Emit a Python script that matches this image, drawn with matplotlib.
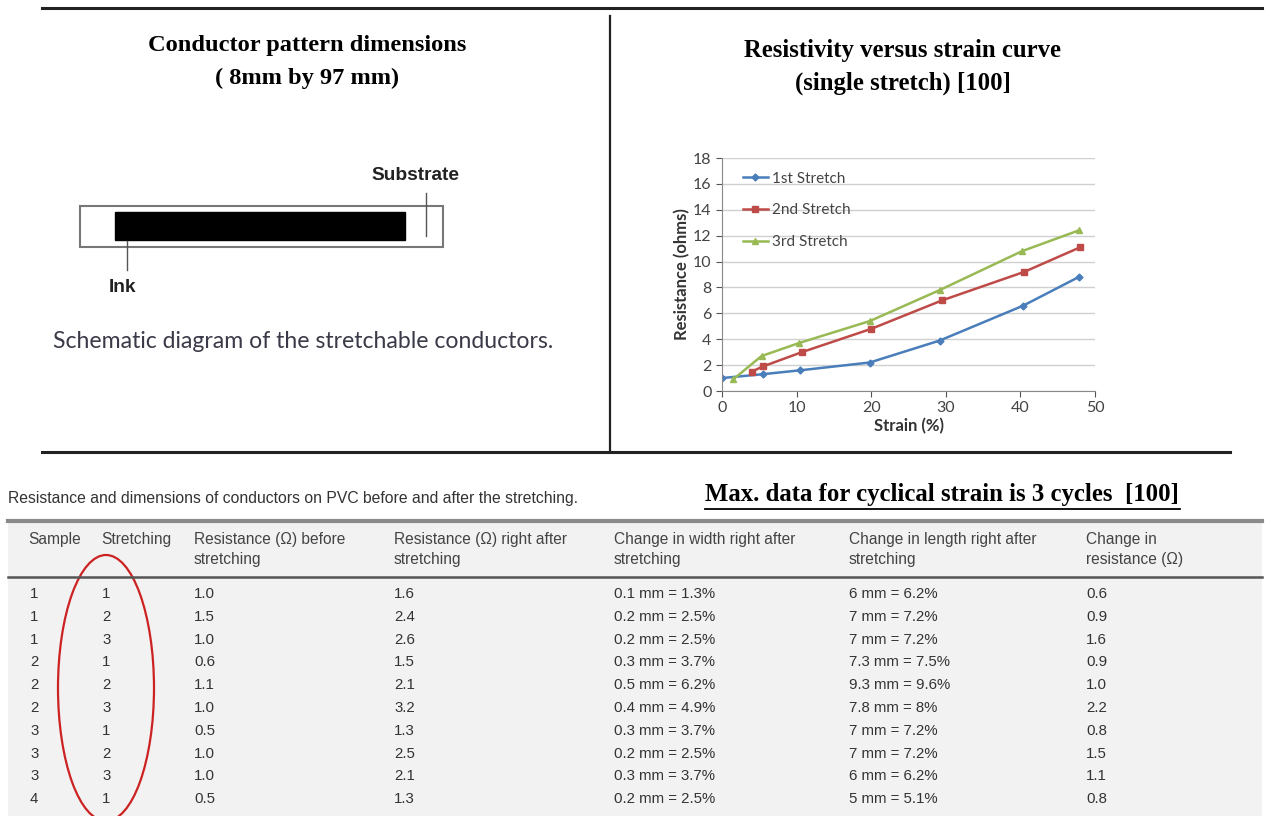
import matplotlib
matplotlib.use("Agg")
import matplotlib.pyplot as plt
from matplotlib.patches import Rectangle, Ellipse

# ---- Resistance vs strain data (single stretch) ----
strain_1 = [0, 5.5, 10.5, 19.8, 29.2, 40.4, 47.8]
res_1 = [1.0, 1.3, 1.6, 2.2, 3.9, 6.6, 8.8]
strain_2 = [4.0, 5.5, 10.7, 20.0, 29.5, 40.5, 48.0]
res_2 = [1.5, 1.9, 3.0, 4.8, 7.0, 9.2, 11.1]
strain_3 = [1.5, 5.3, 10.3, 19.8, 29.2, 40.2, 47.8]
res_3 = [0.9, 2.7, 3.7, 5.4, 7.8, 10.8, 12.4]
series_labels = ["1st Stretch", "2nd Stretch", "3rd Stretch"]
y_ticks = [0, 2, 4, 6, 8, 10, 12, 14, 16, 18]
x_ticks = [0, 10, 20, 30, 40, 50]

# ---- Table data ----
headers = ["Sample", "Stretching", "Resistance (\u03a9) before\nstretching",
           "Resistance (\u03a9) right after\nstretching",
           "Change in width right after\nstretching",
           "Change in length right after\nstretching",
           "Change in\nresistance (\u03a9)"]
sample = ["1", "1", "1", "2", "2", "2", "3", "3", "3", "4"]
stretching = ["1", "2", "3", "1", "2", "3", "1", "2", "3", "1"]
r_before = ["1.0", "1.5", "1.0", "0.6", "1.1", "1.0", "0.5", "1.0", "1.0", "0.5"]
r_after = ["1.6", "2.4", "2.6", "1.5", "2.1", "3.2", "1.3", "2.5", "2.1", "1.3"]
width_change = ["0.1 mm = 1.3%", "0.2 mm = 2.5%", "0.2 mm = 2.5%", "0.3 mm = 3.7%",
                "0.5 mm = 6.2%", "0.4 mm = 4.9%", "0.3 mm = 3.7%", "0.2 mm = 2.5%",
                "0.3 mm = 3.7%", "0.2 mm = 2.5%"]
length_change = ["6 mm = 6.2%", "7 mm = 7.2%", "7 mm = 7.2%", "7.3 mm = 7.5%",
                 "9.3 mm = 9.6%", "7.8 mm = 8%", "7 mm = 7.2%", "7 mm = 7.2%",
                 "6 mm = 6.2%", "5 mm = 5.1%"]
r_change = ["0.6", "0.9", "1.6", "0.9", "1.0", "2.2", "0.8", "1.5", "1.1", "0.8"]

W, H = 1266, 816
fig = plt.figure(figsize=(W / 100, H / 100), dpi=100)

# Full-page canvas in pixel units for the layout elements
bg = fig.add_axes([0, 0, 1, 1])
bg.set_xlim(0, W)
bg.set_ylim(H, 0)
bg.axis("off")

serif_bold = dict(family="Liberation Serif", fontweight="bold")
tbl_font = ["Liberation Sans", "DejaVu Sans"]

# Frame lines of the upper section
bg.plot([42, 1262], [8, 8], color="#222222", lw=2.2)
bg.plot([610, 610], [16, 450], color="#222222", lw=1.6)
bg.plot([42, 1230], [452, 452], color="#222222", lw=2.2)

# Left panel: schematic
bg.text(307, 45, "Conductor pattern dimensions", ha="center", va="center",
        fontsize=17.6, **serif_bold)
bg.text(307, 78, "( 8mm by 97 mm)", ha="center", va="center", fontsize=17.6, **serif_bold)
bg.add_patch(Rectangle((80, 206), 363, 41, fill=False, ec="#777777", lw=1.5))
bg.add_patch(Rectangle((115, 212), 290, 28, fc="black", ec="black"))
bg.plot([426, 426], [193, 236], color="#555555", lw=1.0)
bg.plot([127, 127], [241, 270], color="#555555", lw=1.0)
bg.text(415, 175, "Substrate", ha="center", va="center", fontsize=13.8,
        family="Liberation Sans", fontweight="bold", color="#222222")
bg.text(123, 287, "Ink", ha="center", va="center", fontsize=13.8,
        family="Liberation Sans", fontweight="bold", color="#222222")
bg.text(53, 341, "Schematic diagram of the stretchable conductors.", ha="left",
        va="center", fontsize=16.6, family="Lato", color="#3a3a48")

# Right panel: titles
bg.text(903, 50, "Resistivity versus strain curve", ha="center", va="center",
        fontsize=17.8, **serif_bold)
bg.text(903, 83, "(single stretch) [100]", ha="center", va="center",
        fontsize=17.8, **serif_bold)

# Lower section: table
bg.text(8, 498, "Resistance and dimensions of conductors on PVC before and after the stretching.",
        ha="left", va="center", fontsize=11.3, family=tbl_font, color="#333333")
bg.text(942, 495, "Max. data for cyclical strain is 3 cycles  [100]", ha="center",
        va="center", fontsize=17.8, **serif_bold)
bg.plot([705, 1180], [509, 509], color="black", lw=1.3)

bg.add_patch(Rectangle((8, 521), 1254, 300, fc="#f2f2f2", ec="none"))
bg.plot([8, 1262], [521, 521], color="#8a8a8a", lw=3)
bg.plot([8, 1262], [577, 577], color="#555555", lw=1.8)

col_x = [28, 101, 194, 394, 614, 849, 1086]
for x, h in zip(col_x, headers):
    bg.text(x, 532, h, ha="left", va="top", fontsize=11.2, family=tbl_font,
            color="#444444", linespacing=1.45)

columns = [sample, stretching, r_before, r_after, width_change, length_change, r_change]
row_y0, row_dy = 594, 22.8
val_x = [30, 102, 194, 394, 614, 849, 1086]
for x, col in zip(val_x, columns):
    for i, v in enumerate(col):
        bg.text(x, row_y0 + i * row_dy, v, ha="left", va="center", fontsize=10.8,
                family=tbl_font, color="#333333")

bg.add_patch(Ellipse((106, 688), 96, 266, fill=False, ec="#cc2222", lw=1.6))

# Inset chart
ax = fig.add_axes([722 / W, 1 - 391 / H, (1095 - 722) / W, (391 - 158) / H])
ax.plot(strain_1, res_1, color="#4a7ebb", lw=1.8, marker="D", ms=3.5, label=series_labels[0])
ax.plot(strain_2, res_2, color="#be4b48", lw=1.8, marker="s", ms=5, label=series_labels[1])
ax.plot(strain_3, res_3, color="#98b954", lw=1.8, marker="^", ms=4.5, label=series_labels[2])
ax.set_xlim(0, 50)
ax.set_ylim(0, 18)
ax.set_xticks(x_ticks)
ax.set_yticks(y_ticks)
ax.yaxis.grid(True, color="#d0d0d0", lw=1.0)
ax.set_axisbelow(True)
for s in ["top", "right"]:
    ax.spines[s].set_visible(False)
for s in ["left", "bottom"]:
    ax.spines[s].set_color("#888888")
ax.tick_params(labelsize=11.5, colors="#555555", length=4, labelcolor="#444444")
for lab in ax.get_xticklabels() + ax.get_yticklabels():
    lab.set_family("Lato")
ax.set_xlabel("Strain (%)", fontsize=12, fontweight="bold", family="Lato",
              color="#333333", labelpad=2)
ax.set_ylabel("Resistance (ohms)", fontsize=12, fontweight="bold", family="Lato",
              color="#333333", labelpad=2)
leg = ax.legend(loc="upper left", bbox_to_anchor=(0.02, 1.0), frameon=False,
                labelspacing=1.15, handlelength=1.6, handletextpad=0.3,
                prop={"family": "Lato", "size": 11})
for txt in leg.get_texts():
    txt.set_color("#444444")

fig.savefig("out.png", dpi=100)
